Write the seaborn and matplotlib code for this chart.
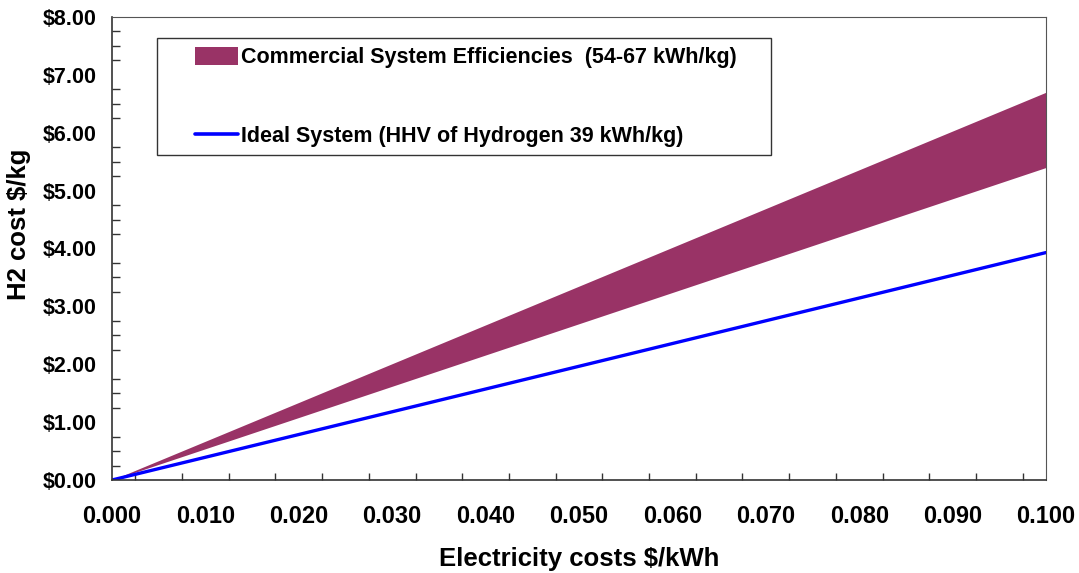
import matplotlib
matplotlib.use("Agg")
import matplotlib.pyplot as plt
import matplotlib.ticker as mticker
from matplotlib.patches import Rectangle, Patch
from matplotlib.lines import Line2D
import seaborn as sns
import pandas as pd

# Data
electricity_cost = [0.0, 0.1]          # $/kWh
commercial_low = [0.0, 5.4]            # $/kg at 54 kWh/kg
commercial_high = [0.0, 6.7]           # $/kg at 67 kWh/kg
ideal_system = [0.0, 3.93]             # $/kg at 39 kWh/kg (HHV)

band_label = "Commercial System Efficiencies  (54-67 kWh/kg)"
ideal_label = "Ideal System (HHV of Hydrogen 39 kWh/kg)"

sns.set_theme(style="white")
plt.rcParams['font.family'] = ['Liberation Sans', 'DejaVu Sans']
plt.rcParams['font.weight'] = 'bold'
plt.rcParams['text.color'] = 'black'
plt.rcParams['axes.labelcolor'] = 'black'
plt.rcParams['xtick.color'] = 'black'
plt.rcParams['ytick.color'] = 'black'

fig = plt.figure(figsize=(10.79, 5.73), dpi=100)
ax = fig.add_axes([112/1079, 1 - 480/573, (1046-112)/1079, (480-17)/573])

band_color = "#993366"
ax.fill_between(electricity_cost, commercial_low, commercial_high,
                color=band_color, linewidth=0)

df = pd.DataFrame({"x": electricity_cost, "y": ideal_system})
sns.lineplot(data=df, x="x", y="y", ax=ax, color="#0000FF", linewidth=2.4)

ax.set_xlim(0, 0.1)
ax.set_ylim(0, 8)

ax.xaxis.set_major_locator(mticker.MultipleLocator(0.005))
ax.xaxis.set_minor_locator(mticker.MultipleLocator(0.0025))
def xfmt(v, pos):
    k = round(v / 0.005)
    return f"{v:.3f}" if k % 2 == 0 else ""
ax.xaxis.set_major_formatter(mticker.FuncFormatter(xfmt))

ax.yaxis.set_major_locator(mticker.MultipleLocator(1))
ax.yaxis.set_minor_locator(mticker.MultipleLocator(0.25))
ax.yaxis.set_major_formatter(mticker.FuncFormatter(lambda v, p: f"${v:.2f}"))

ax.tick_params(axis='x', which='major', direction='out', length=7, width=1,
               color='#333333', labelsize=17, pad=11, labelcolor='black')
ax.tick_params(axis='x', which='minor', direction='in', length=5, width=1,
               color='#333333', bottom=True)
ax.tick_params(axis='y', which='major', direction='inout', length=12, width=1,
               color='#333333', labelsize=15.5, pad=5, labelcolor='black')
ax.tick_params(axis='y', which='minor', direction='in', length=6, width=1,
               color='#333333', left=True)
for lab in ax.get_xticklabels() + ax.get_yticklabels():
    lab.set_fontweight('bold')

for side in ['left', 'bottom']:
    ax.spines[side].set_color('#333333')
    ax.spines[side].set_linewidth(1.2)
for side in ['top', 'right']:
    ax.spines[side].set_color('#555555')
    ax.spines[side].set_linewidth(0.8)

ax.set_xlabel("Electricity costs $/kWh", fontsize=18.5, fontweight='bold',
              labelpad=14, color='black')
ax.set_ylabel("H2 cost $/kg", fontsize=18.5, fontweight='bold', color='black',
              va='center')
ax.yaxis.set_label_coords((19 - 112) / 934, (480 - 224) / 463)

# Legend
handles = [Patch(facecolor=band_color, edgecolor='none'),
           Line2D([0], [0], color="#0000FF", linewidth=2.6)]
leg = fig.legend(handles, [band_label, ideal_label], loc='upper left',
                 bbox_to_anchor=(195/1079, 1 - 47/573), frameon=False,
                 prop={'weight': 'bold', 'size': 15.5}, handlelength=2.0,
                 handleheight=0.9, handletextpad=0.12, labelspacing=2.66,
                 borderpad=0, borderaxespad=0)
for t in leg.get_texts():
    t.set_color('black')
fig.patches.append(Rectangle((157/1079, 1 - 155/573), (771-157)/1079, (155-38)/573,
                             transform=fig.transFigure, fill=False,
                             edgecolor='#333333', linewidth=1.0))

fig.savefig("out.png", dpi=100)
